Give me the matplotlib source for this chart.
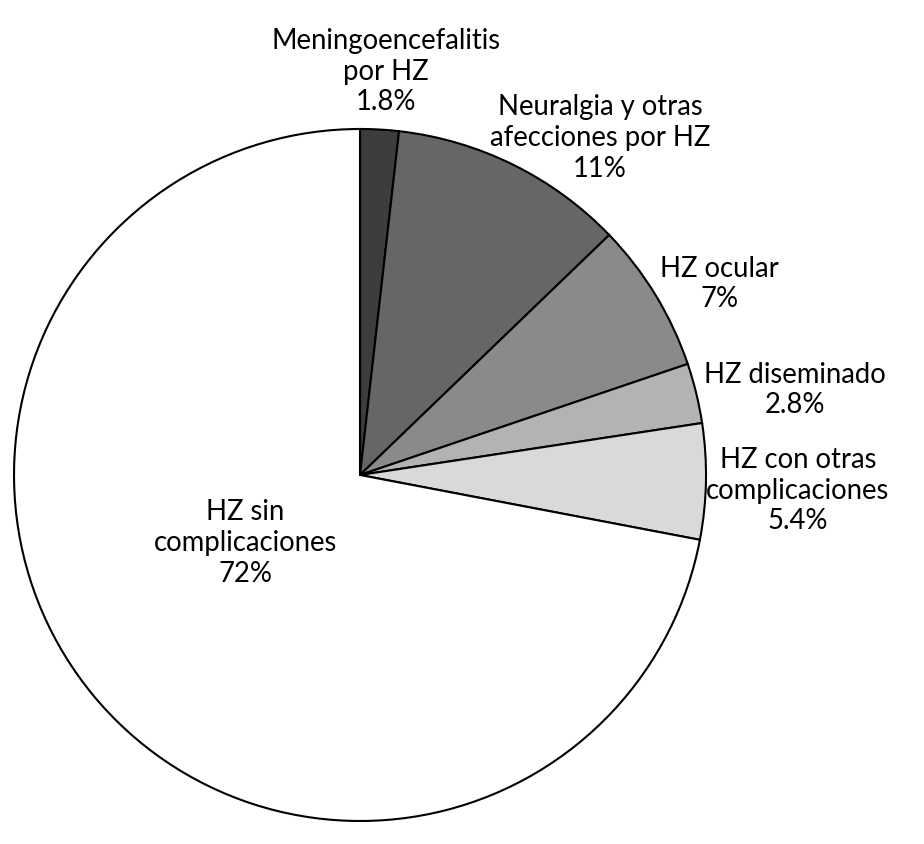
import matplotlib.pyplot as plt

labels = ['Meningoencefalitis\npor HZ', 'Neuralgia y otras\nafecciones por HZ', 'HZ ocular',
          'HZ diseminado', 'HZ con otras\ncomplicaciones', 'HZ sin\ncomplicaciones']
pct_text = ['1.8%', '11%', '7%', '2.8%', '5.4%', '72%']
values = [1.8, 11, 7, 2.8, 5.4, 72]
colors = ['#3d3d3d', '#666666', '#8a8a8a', '#b3b3b3', '#d9d9d9', '#ffffff']

# label positions (in pie radius units, centre of text block)
label_xy = [(0.075, 1.168), (0.694, 0.977), (1.04, 0.555),
            (1.257, 0.249), (1.266, -0.043), (-0.332, -0.194)]

plt.rcParams['font.family'] = ['Lato', 'DejaVu Sans']

fig = plt.figure(figsize=(9.24, 8.45), dpi=100)
ax = fig.add_axes([0, 0, 1, 1])
ax.pie(values, colors=colors, startangle=90, counterclock=False, radius=1,
       wedgeprops=dict(edgecolor='black', linewidth=1.5))
for lab, p, (x, y) in zip(labels, pct_text, label_xy):
    ax.text(x, y, lab + '\n' + p, ha='center', va='center', fontsize=19.8,
            linespacing=1.22)
ax.set_xlim(-1.0405, 1.630)
ax.set_ylim(-1.0665, 1.3757)
ax.set_aspect('auto')
ax.axis('off')
fig.savefig('out.png', dpi=100)
